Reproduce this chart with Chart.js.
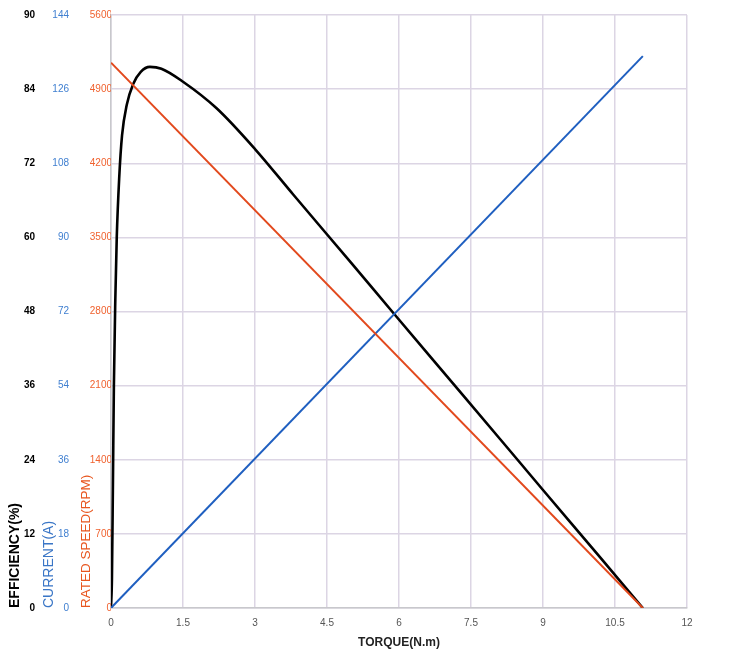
<!DOCTYPE html>
<html>
<head>
<meta charset="utf-8">
<script src="https://cdn.jsdelivr.net/npm/chart.js@4.4.0/dist/chart.umd.min.js"></script>
<style>
  html, body { margin: 0; padding: 0; background: #fff; }
  canvas { display: block; }
</style>
</head>
<body>
<canvas id="CHART" width="750" height="661"></canvas>
<script>
"use strict"

// torque (N.m) vs efficiency (%)
const effTorque = [0, 0.02, 0.04, 0.06, 0.09, 0.12, 0.17, 0.23, 0.33, 0.46, 0.62, 0.81, 1.05, 1.5, 2.2, 3.0, 3.8, 5.0, 5.9, 7.0, 8.1, 9.0, 10.2, 11.08]
const effValues = [0, 5, 20, 36, 50, 60, 69.5, 76.5, 81.5, 84.8, 86.8, 87.6, 87.3, 85.2, 80.9, 74.3, 66.9, 55.9, 47.6, 37.5, 27.4, 19.1, 8.1, 0]

// straight lines
const lineTorque = [0, 11.08]
const currentValues = [0, 134]
const speedValues = [5150, 0]

// axis tick labels
const xTicks = [0, 1.5, 3, 4.5, 6, 7.5, 9, 10.5, 12]
const effTickLabels = ["0", "12", "24", "36", "48", "60", "72", "84", "90"]
const currentTicks = [0, 18, 36, 54, 72, 90, 108, 126, 144]
const speedTicks = [0, 700, 1400, 2100, 2800, 3500, 4200, 4900, 5600]

const FONT = "'Liberation Sans', Arial, sans-serif"
const GRID = "#dcd5e4"

function pts(xs, ys) { return xs.map((x, i) => ({ x: x, y: ys[i] })) }
function fixWidth(w) { return scale => { scale.width = w } }

new Chart(CHART, {
    type: "scatter",
    data: {
        datasets: [
            {
                label: "Speed",
                data: pts(lineTorque, speedValues),
                yAxisID: "spd",
                showLine: true,
                borderColor: "#e2491d",
                borderWidth: 2,
                pointRadius: 0,
            },
            {
                label: "Current",
                data: pts(lineTorque, currentValues),
                yAxisID: "cur",
                showLine: true,
                borderColor: "#1f5fc0",
                borderWidth: 2,
                pointRadius: 0,
            },
            {
                label: "Efficiency",
                data: pts(effTorque, effValues),
                yAxisID: "eff",
                showLine: true,
                borderColor: "#000",
                borderWidth: 2.6,
                pointRadius: 0,
                cubicInterpolationMode: "monotone",
            },
        ]
    },
    options: {
        animation: false,
        responsive: false,
        maintainAspectRatio: false,
        layout: { padding: { top: 15, right: 63, left: 0, bottom: 0 } },
        plugins: { legend: { display: false }, tooltip: { enabled: false } },
        scales: {
            x: {
                type: "linear",
                min: 0,
                max: 12,
                afterBuildTicks: axis => axis.ticks = xTicks.map(v => ({ value: v })),
                afterFit: scale => { scale.height = 53 },
                grid: { color: GRID, lineWidth: 1.5, drawTicks: false },
                border: { color: "#c8c8cc", width: 1.5 },
                ticks: {
                    padding: 9,
                    color: "#555",
                    font: { family: FONT, size: 10 },
                    maxRotation: 0,
                    callback: v => String(v),
                },
                title: {
                    display: true,
                    text: "TORQUE(N.m)",
                    color: "#222",
                    font: { family: FONT, size: 12, weight: "bold" },
                    padding: { top: 4, bottom: 11 },
                },
            },
            eff: {
                type: "linear",
                position: "left",
                weight: 3,
                min: 0,
                max: 96,
                afterBuildTicks: axis => axis.ticks = effTickLabels.map((t, i) => ({ value: i * 12 })),
                afterFit: fixWidth(38),
                grid: { drawOnChartArea: false, drawTicks: false },
                border: { display: false },
                ticks: {
                    padding: 3,
                    color: "#000",
                    font: { family: FONT, size: 10, weight: "bold" },
                    callback: (v, i) => effTickLabels[i],
                },
                title: {
                    display: true,
                    text: "EFFICIENCY(%)",
                    align: "start",
                    color: "#000",
                    font: { family: FONT, size: 14, weight: "bold" },
                    padding: { top: 7, bottom: 0 },
                },
            },
            cur: {
                type: "linear",
                position: "left",
                weight: 2,
                min: 0,
                max: 144,
                afterBuildTicks: axis => axis.ticks = currentTicks.map(v => ({ value: v })),
                afterFit: fixWidth(36),
                grid: { drawOnChartArea: false, drawTicks: false },
                border: { display: false },
                ticks: {
                    padding: 5,
                    color: "#3f7fd0",
                    font: { family: FONT, size: 10 },
                    callback: v => String(v),
                },
                title: {
                    display: true,
                    text: "CURRENT(A)",
                    align: "start",
                    color: "#3a76c6",
                    font: { family: FONT, size: 14 },
                    padding: { top: 3, bottom: 0 },
                },
            },
            spd: {
                type: "linear",
                position: "left",
                weight: 1,
                min: 0,
                max: 5600,
                afterBuildTicks: axis => axis.ticks = speedTicks.map(v => ({ value: v })),
                afterFit: fixWidth(37),
                grid: { color: GRID, lineWidth: 1.5, drawTicks: false },
                border: { color: "#c8c8cc", width: 1.5 },
                ticks: {
                    padding: -1,
                    color: "#f0622f",
                    font: { family: FONT, size: 10 },
                    callback: v => String(v),
                },
                title: {
                    display: true,
                    text: "RATED SPEED(RPM)",
                    align: "start",
                    color: "#e8561f",
                    font: { family: FONT, size: 13.5 },
                    padding: { top: 4, bottom: 0 },
                },
            },
        }
    },
})
</script>
</body>
</html>
